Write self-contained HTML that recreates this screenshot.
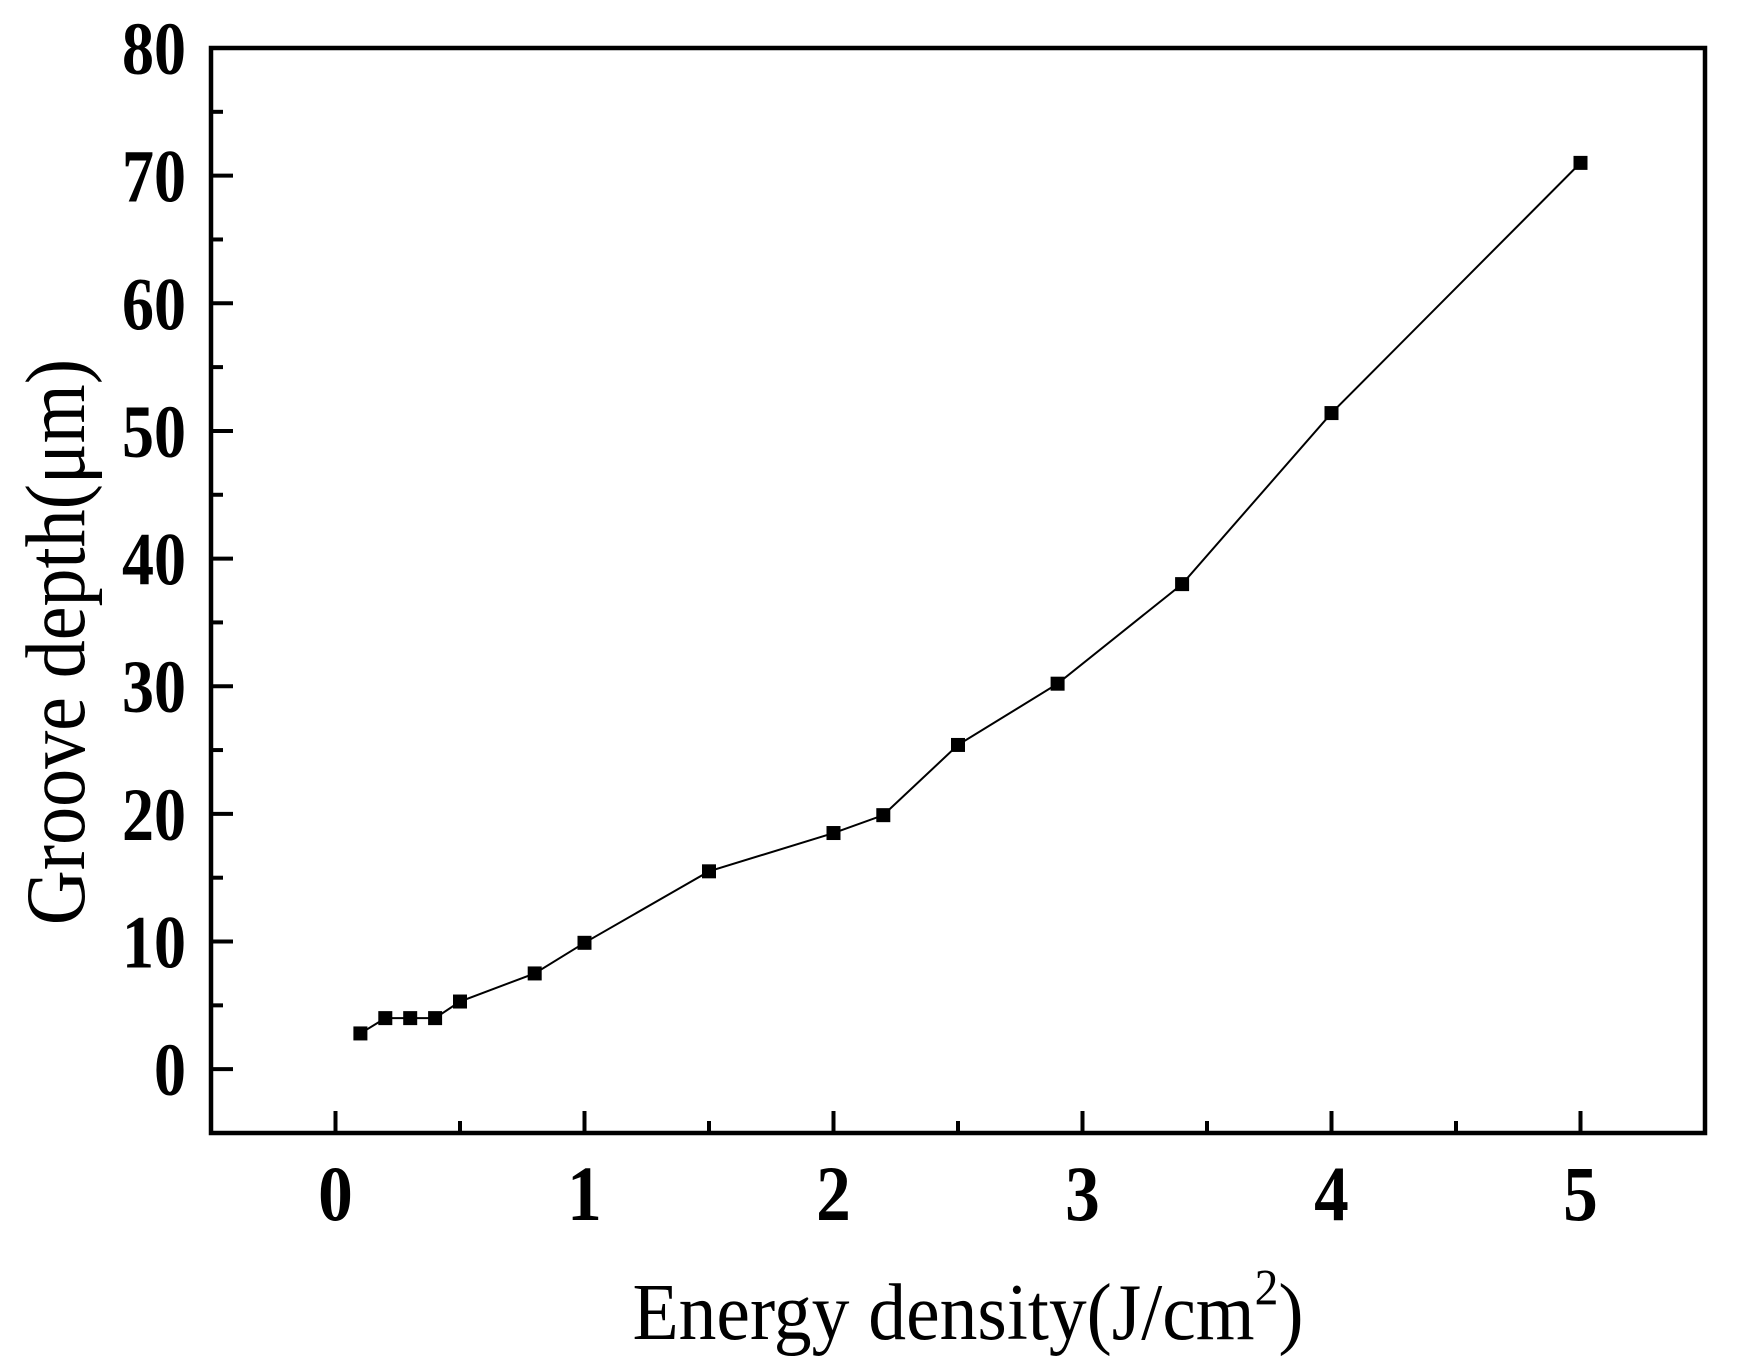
<!DOCTYPE html>
<html><head><meta charset="utf-8"><style>
html,body{margin:0;padding:0;background:#fff;}
svg{display:block;}
text{font-family:"Liberation Serif","Times New Roman",serif;fill:#000;}
</style></head><body>
<svg id="chart" width="1737" height="1365" viewBox="0 0 1737 1365" xmlns="http://www.w3.org/2000/svg">
<g id="axes"></g>
<g id="series"></g>
<text transform="translate(968,1339) scale(1.08,1.15)" font-size="70" text-anchor="middle">Energy density(J/cm<tspan dy="-30" font-size="44">2</tspan><tspan dy="30">)</tspan></text>
<text transform="translate(84,642) rotate(-90) scale(1.0,1.12)" font-size="76" text-anchor="middle">Groove depth(μm)</text>
</svg>
<script>
const energyX = [0.1,0.2,0.3,0.4,0.5,0.8,1,1.5,2,2.2,2.5,2.9,3.4,4,5];
const depthY = [2.8,4,4,4,5.3,7.5,9.9,15.5,18.5,19.9,25.4,30.2,38,51.4,71];
const xTickLabels = [0,1,2,3,4,5];
const yTickLabels = [0,10,20,30,40,50,60,70,80];

const L=211,R=1705,T=48,B=1133;
const xMin=-0.5,xMax=5.5,yMin=-5,yMax=80;
const sx=v=>L+(v-xMin)/(xMax-xMin)*(R-L);
const sy=v=>B-(v-yMin)/(yMax-yMin)*(B-T);
const NS="http://www.w3.org/2000/svg";
const axes=document.getElementById('axes');
const ser=document.getElementById('series');
function mk(tag,attrs,parent){const e=document.createElementNS(NS,tag);for(const k in attrs)e.setAttribute(k,attrs[k]);parent.appendChild(e);return e;}

const frame=mk('rect',{x:L,y:T,width:R-L,height:B-T,fill:'none',stroke:'#000','stroke-width':4.5},axes);



xTickLabels.forEach(v=>{
  const t=mk('line',{x1:sx(v),x2:sx(v),y1:B,y2:B-22,stroke:'#000','stroke-width':4},axes);
  
  
  const m=mk('line',{x1:sx(v+0.5),x2:sx(v+0.5),y1:B,y2:B-12,stroke:'#000','stroke-width':4},axes);
  
  
  const lb=mk('text',{transform:'translate('+sx(v)+',1220) scale(1.05,1.18)','font-size':66,'font-weight':'bold','text-anchor':'middle'},axes);
  lb.textContent=v;
  
  
});
yTickLabels.forEach(v=>{
  const t=mk('line',{x1:L,x2:L+22,y1:sy(v),y2:sy(v),stroke:'#000','stroke-width':4},axes);
  
  
  if(v<80){
    const m=mk('line',{x1:L,x2:L+12,y1:sy(v+5),y2:sy(v+5),stroke:'#000','stroke-width':4},axes);
    
    
  }
  const lb=mk('text',{transform:'translate(186,'+(sy(v)+26)+') scale(1,1.18)','font-size':64,'font-weight':'bold','text-anchor':'end'},axes);
  lb.textContent=v;
  
  
});

const pts=energyX.map((x,i)=>sx(x)+','+sy(depthY[i])).join(' ');
const line=mk('polyline',{points:pts,fill:'none',stroke:'#000','stroke-width':2},ser);


energyX.forEach((x,i)=>{
  const r=mk('rect',{x:sx(x)-7,y:sy(depthY[i])-7,width:14,height:14,fill:'#000'},ser);
  
  
});
</script>
</body></html>
